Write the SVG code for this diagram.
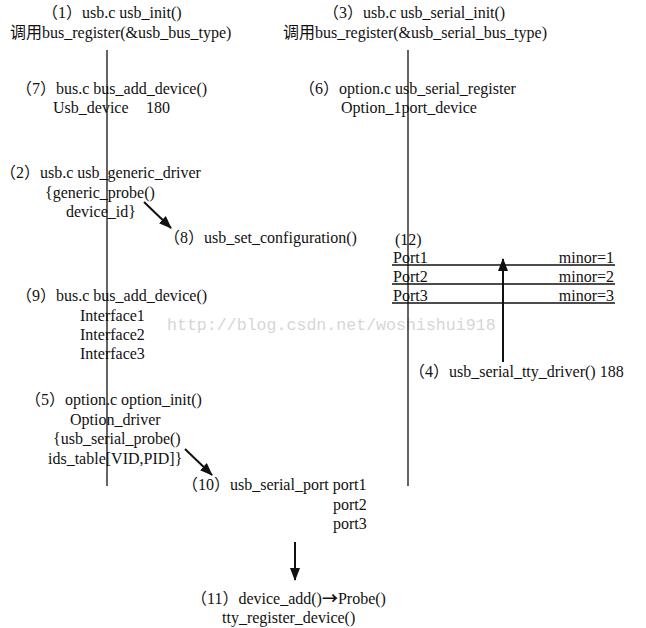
<svg xmlns="http://www.w3.org/2000/svg" width="646" height="628" viewBox="0 0 646 628">
<defs>
<style>
text{font-family:"Liberation Serif","Noto Sans CJK SC",serif;font-size:16px;fill:#111}
.wm{font-family:"Liberation Mono","DejaVu Sans Mono",monospace;font-size:16.6px;fill:#d6d6d6}
.cjk{font-family:"Noto Sans CJK SC",sans-serif;font-weight:bold}
.ln{stroke:#111;stroke-width:1.3;fill:none}
.ar{stroke:#111;stroke-width:2;fill:none;marker-end:url(#ah)}
</style>
<marker id="ah" viewBox="0 0 13 10" refX="12" refY="5" markerWidth="6.5" markerHeight="5" orient="auto" markerUnits="strokeWidth">
<path d="M0,0 L13,5 L0,10 z" fill="#111"/>
</marker>
</defs>
<rect width="646" height="628" fill="#fff"/>
<text class="wm" x="167" y="330">http://blog.csdn.net/woshishui918</text>
<g id="connectors">
<line class="ln" x1="107" y1="50" x2="107" y2="486"/>
<line class="ln" x1="408" y1="50" x2="408" y2="486"/>
<line class="ar" x1="144" y1="202" x2="171" y2="228"/>
<line class="ar" x1="185" y1="449" x2="212" y2="475"/>
<line class="ar" x1="503" y1="362" x2="503" y2="259"/>
<line class="ar" x1="295" y1="542" x2="295" y2="580"/>
</g>
<g id="n1"><text x="42" y="18">（1）usb.c usb_init()</text><text x="10" y="38">调用bus_register(&amp;usb_bus_type)</text></g>
<g id="n3"><text x="323" y="18">（3）usb.c usb_serial_init()</text><text x="283" y="38">调用bus_register(&amp;usb_serial_bus_type)</text></g>
<g id="n7"><text x="16" y="94">（7）bus.c bus_add_device()</text><text x="53" y="113">Usb_device</text><text x="146" y="113">180</text></g>
<g id="n6"><text x="299" y="94">（6）option.c usb_serial_register</text><text x="341" y="113">Option_1port_device</text></g>
<g id="n2"><text x="0" y="178">（2）usb.c usb_generic_driver</text><text x="45" y="198">{generic_probe()</text><text x="66" y="217">device_id}</text></g>
<g id="n8"><text x="164" y="243">（8）usb_set_configuration()</text></g>
<g id="n12">
<text x="395" y="245">(12)</text>
<text x="393" y="263">Port1</text><text x="614" y="263" text-anchor="end">minor=1</text>
<line class="ln" x1="392" y1="265" x2="615" y2="265"/>
<text x="393" y="282">Port2</text><text x="614" y="282" text-anchor="end">minor=2</text>
<line class="ln" x1="392" y1="284" x2="615" y2="284"/>
<text x="393" y="301">Port3</text><text x="614" y="301" text-anchor="end">minor=3</text>
<line class="ln" x1="392" y1="303" x2="615" y2="303"/>
</g>
<g id="n4"><text x="409" y="377">（4）usb_serial_tty_driver() 188</text></g>
<g id="n9"><text x="16" y="301">（9）bus.c bus_add_device()</text><text x="80" y="321">Interface1</text><text x="80" y="340">Interface2</text><text x="80" y="359">Interface3</text></g>
<g id="n5"><text x="25" y="405">（5）option.c option_init()</text><text x="70" y="425">Option_driver</text><text x="53" y="444">{usb_serial_probe()</text><text x="48" y="464">ids_table[VID,PID]}</text></g>
<g id="n10"><text x="182" y="490">（10）usb_serial_port port1</text><text x="333" y="510">port2</text><text x="333" y="529">port3</text></g>
<g id="n11"><text x="191" y="604">（11）device_add()<tspan class="cjk">→</tspan>Probe()</text><text x="222" y="623">tty_register_device()</text></g>
</svg>
